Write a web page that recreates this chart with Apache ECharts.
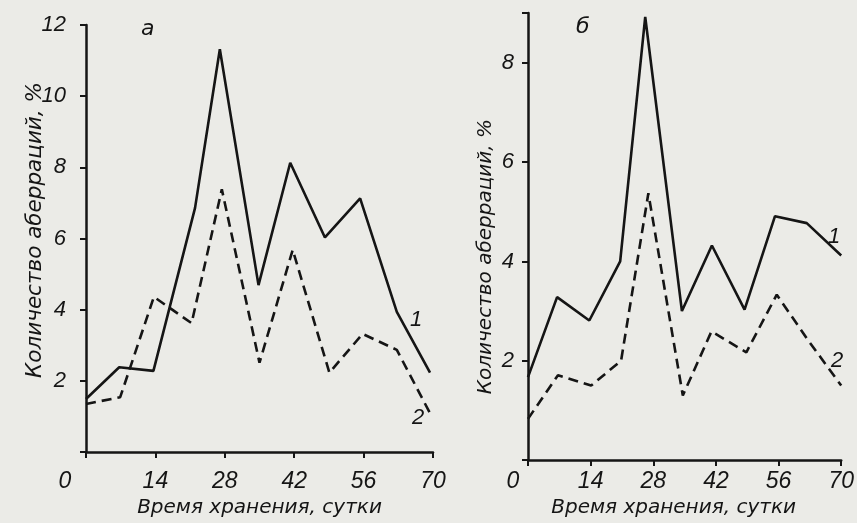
<!DOCTYPE html>
<html>
<head>
<meta charset="utf-8">
<script src="https://cdn.jsdelivr.net/npm/echarts@6/dist/echarts.min.js"></script>
<style>
html,body{margin:0;padding:0;background:#ebebe7;}
#c{width:857px;height:523px;}
</style>
</head>
<body>
<div id="c"></div>
<script>
// Panel "а"
const daysA1 = [0, 6.7, 13.6, 22.0, 27.0, 34.8, 41.2, 48.2, 55.3, 62.7, 69.4];
const valsA1 = [1.49, 2.38, 2.28, 6.86, 11.32, 4.69, 8.13, 6.03, 7.13, 3.94, 2.23];
const daysA2 = [0, 6.9, 13.7, 21.3, 27.4, 35.0, 41.7, 49.1, 55.8, 62.7, 69.4];
const valsA2 = [1.35, 1.54, 4.36, 3.62, 7.38, 2.51, 5.68, 2.23, 3.32, 2.87, 1.09];
// Panel "б"
const daysB1 = [0, 6.5, 13.7, 20.6, 26.2, 34.4, 41.1, 48.4, 55.2, 62.3, 70];
const valsB1 = [1.67, 3.28, 2.81, 4.0, 8.92, 3.0, 4.32, 3.03, 4.91, 4.77, 4.12];
const daysB2 = [0, 6.7, 14.1, 20.8, 26.9, 34.6, 41.0, 48.8, 55.6, 62.3, 70];
const valsB2 = [0.83, 1.71, 1.5, 2.0, 5.37, 1.3, 2.59, 2.17, 3.33, 2.45, 1.5];

const panelLabels = ['а', 'б'];
const seriesNames = ['1', '2'];
const xTitle = 'Время хранения, сутки';
const yTitle = 'Количество аберраций, %';
const xMax = 70, xStep = 14;
const yMaxA = 12, yMaxB = 9, yStep = 2;

const INK = '#151515';
const numFont = '"Liberation Sans Narrow","Liberation Sans",sans-serif';
const txtFont = '"DejaVu Sans",sans-serif';

function pairs(xs, ys, lastLabel, offset) {
  return xs.map((x, i) => {
    const item = { value: [x, ys[i]] };
    if (i === xs.length - 1) {
      item.label = {
        show: true, formatter: lastLabel, position: 'inside', offset: offset,
        fontFamily: numFont, fontStyle: 'italic', fontSize: 22, color: INK
      };
    }
    return item;
  });
}

function xAxisFor(gridIndex, zeroPad, nameGap, namePad) {
  return {
    type: 'value', gridIndex: gridIndex, min: 0, max: xMax, interval: xStep,
    name: xTitle, nameLocation: 'middle', nameGap: nameGap,
    nameTextStyle: { fontFamily: txtFont, fontStyle: 'italic', fontSize: 20, color: INK, padding: namePad },
    axisLine: { lineStyle: { color: INK, width: 2.5 } },
    axisTick: { length: 6, lineStyle: { color: INK, width: 2 } },
    splitLine: { show: false },
    axisLabel: {
      margin: gridIndex === 0 ? 18 : 10,
      fontFamily: numFont, fontStyle: 'italic', fontSize: 23, color: INK,
      formatter: v => v === 0 ? '{z|0}' : String(v),
      rich: { z: { fontFamily: numFont, fontStyle: 'italic', fontSize: 23, color: INK, padding: [0, zeroPad, 0, 0] } }
    }
  };
}

function yAxisFor(gridIndex, max, margin, nameGap, namePad, nameSize) {
  return {
    type: 'value', gridIndex: gridIndex, min: 0, max: max, interval: yStep,
    name: yTitle, nameLocation: 'middle', nameGap: nameGap, nameRotate: 90,
    nameMoveOverlap: false,
    nameTextStyle: { fontFamily: txtFont, fontStyle: 'italic', fontSize: nameSize, color: INK, padding: namePad },
    axisLine: { lineStyle: { color: INK, width: 2.5 } },
    axisTick: { length: 6, lineStyle: { color: INK, width: 2 } },
    splitLine: { show: false },
    axisLabel: {
      margin: margin, fontFamily: numFont, fontStyle: 'italic', fontSize: 22, color: INK,
      formatter: v => (v === 0 || v % yStep !== 0) ? '' : String(v)
    }
  };
}

function lineSeries(xi, data, dashed) {
  return {
    type: 'line', xAxisIndex: xi, yAxisIndex: xi, data: data,
    symbol: 'circle', symbolSize: 0, showSymbol: true,
    lineStyle: { color: INK, width: 2.6, type: dashed ? [10, 6] : 'solid' },
    itemStyle: { color: INK },
    silent: true
  };
}

const chart = echarts.init(document.getElementById('c'), null, { renderer: 'canvas' });
chart.setOption({
  animation: false,
  backgroundColor: '#ebebe7',
  title: [
    { text: panelLabels[0], left: 136, top: 13, textStyle: { fontFamily: txtFont, fontStyle: 'italic', fontWeight: 'normal', fontSize: 22, color: INK } },
    { text: panelLabels[1], left: 571, top: 11, textStyle: { fontFamily: txtFont, fontStyle: 'italic', fontWeight: 'normal', fontSize: 22, color: INK } }
  ],
  grid: [
    { left: 86, right: 424, top: 25, bottom: 71 },
    { left: 528, right: 5, top: 13, bottom: 60 }
  ],
  xAxis: [
    xAxisFor(0, 42, 44, [0, 0, 0, 0]),
    xAxisFor(1, 30, 34, [0, 22, 0, 0])
  ],
  yAxis: [
    yAxisFor(0, yMaxA, 20, 40, [0, 0, 0, 17], 21.5),
    yAxisFor(1, yMaxB, 14, 32, [0, 40, 0, 0], 20)
  ],
  series: [
    lineSeries(0, pairs(daysA1, valsA1, seriesNames[0], [-14, -53]), false),
    lineSeries(0, pairs(daysA2, valsA2, seriesNames[1], [-12, 5]), true),
    lineSeries(1, pairs(daysB1, valsB1, seriesNames[0], [-7, -19]), false),
    lineSeries(1, pairs(daysB2, valsB2, seriesNames[1], [-4, -25]), true)
  ]
});
</script>
</body>
</html>
